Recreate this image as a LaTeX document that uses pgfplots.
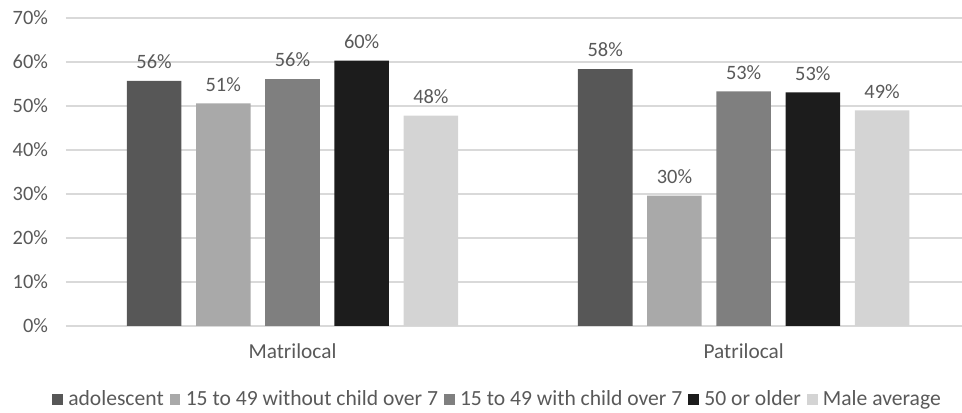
\documentclass[border=0pt]{standalone}
\usepackage{pgfplots}
\pgfplotsset{compat=1.18}
\usepackage{fontspec}
\setmainfont{Carlito}
\definecolor{cA}{HTML}{575757}
\definecolor{cB}{HTML}{A9A9A9}
\definecolor{cC}{HTML}{7F7F7F}
\definecolor{cD}{HTML}{1C1C1C}
\definecolor{cE}{HTML}{D4D4D4}
\definecolor{txt}{HTML}{595959}
\definecolor{gridc}{HTML}{D9D9D9}
\begin{document}
\begin{tikzpicture}
\begin{axis}[name=ax, at={(0,0)}, anchor=south west,
  scale only axis, width=672pt, height=231pt,
  xmin=-0.502, xmax=1.484, ymin=0, ymax=70,
  ybar=11pt, bar width=40.9pt,
  xtick={0,1}, xticklabels={Matrilocal,Patrilocal},
  ytick={0,10,...,70}, yticklabel={\pgfmathprintnumber{\tick}\%},
  ymajorgrids, grid style={draw=gridc, line width=1.1pt},
  axis line style={draw=none}, major tick length=0pt, tick style={draw=none},
  font=\fontsize{15}{18}\selectfont,
  ticklabel style={text=txt, font=\fontsize{15.3}{18}\selectfont},
  yticklabel style={xshift=-10pt},
  xticklabel style={yshift=-9.5pt, font=\fontsize{16}{19}\selectfont},
  /pgf/number format/assume math mode=true,
  nodes near coords={\pgfmathprintnumber[fixed,precision=0]{\pgfplotspointmeta}\%},
  nodes near coords style={text=txt, yshift=5.5pt, font=\fontsize{15.3}{18}\selectfont},
  legend columns=5,
  legend style={at={(0.4816,-0.2386)}, anchor=center, draw=none, fill=none,
    font=\fontsize{16.2}{19}\selectfont, text=txt,
    /tikz/every even column/.append style={column sep=3pt},
    /tikz/every odd column/.append style={column sep=2.5pt},
    nodes={inner sep=1.5pt}},
  legend image code/.code={\fill[#1] (0pt,-4pt) rectangle (8pt,4pt);},
  clip=false,
]
\addplot[fill=cA, draw=none] coordinates {(0,55.7) (1,58.4)};
\addplot[fill=cB, draw=none] coordinates {(0,50.6) (1,29.6)};
\addplot[fill=cC, draw=none] coordinates {(0,56.1) (1,53.3)};
\addplot[fill=cD, draw=none] coordinates {(0,60.3) (1,53.1)};
\addplot[fill=cE, draw=none] coordinates {(0,47.8) (1,49.0)};
\legend{adolescent,15 to 49 without child over 7,15 to 49 with child over 7,50 or older,Male average}
\end{axis}
\pgfresetboundingbox
\path[use as bounding box] ([xshift=-49.5pt,yshift=-65.25pt]ax.south west) rectangle ([yshift=13.5pt]ax.north east);
\end{tikzpicture}
\end{document}
